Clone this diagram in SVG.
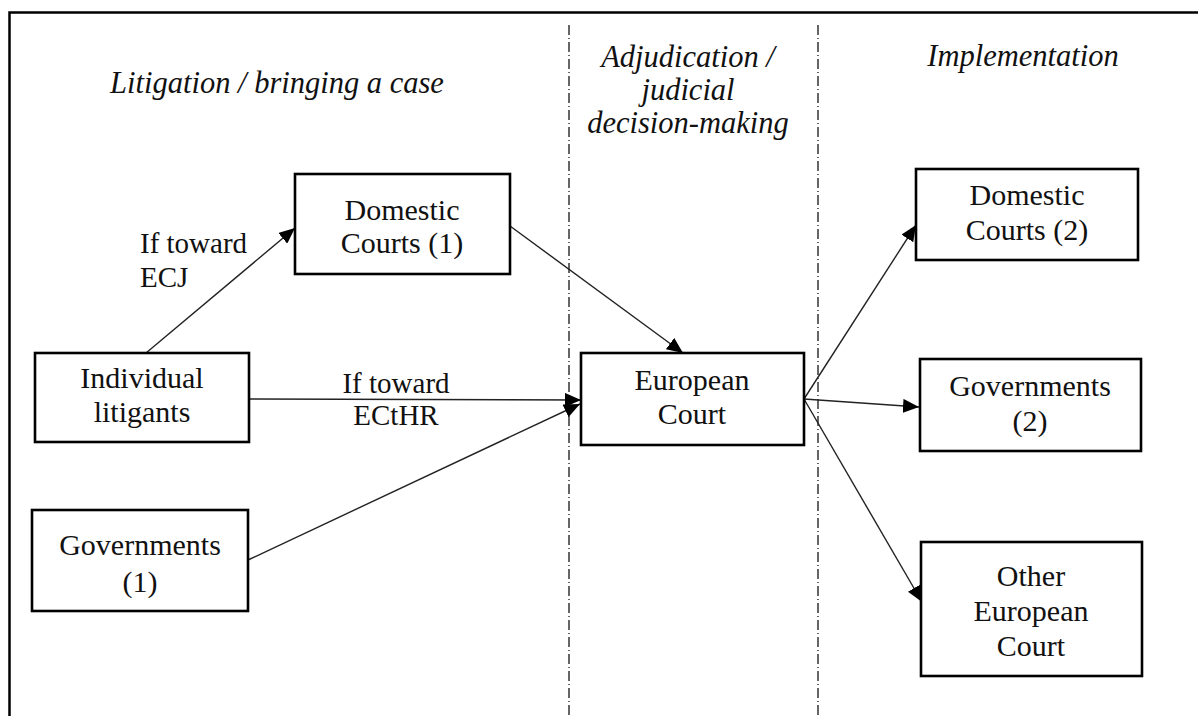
<svg xmlns="http://www.w3.org/2000/svg" width="1198" height="716" viewBox="0 0 1198 716">
<style>
.box{fill:#fff;stroke:#000;stroke-width:2.6}
.lbl{font-size:30px;fill:#111;text-anchor:middle}
.hdr{font-size:30.5px;font-style:italic;fill:#111;text-anchor:middle}
.elbl{font-size:29px;fill:#111}
.conn{stroke:#222;stroke-width:1.4;fill:none}
.div{stroke:#000;stroke-width:1.2;stroke-dasharray:10 3 1 3;fill:none}
</style>
<defs>
<marker id="ah" viewBox="0 0 16 14" refX="16" refY="7" markerWidth="16" markerHeight="14" markerUnits="userSpaceOnUse" orient="auto">
<path d="M0,0 L16,7 L0,14 z" fill="#000"/>
</marker>
</defs>
<rect width="1198" height="716" fill="#fff"/>
<path d="M9.5,716 V12.5 H1198" fill="none" stroke="#000" stroke-width="2.5"/>
<g id="dividers">
<line class="div" x1="569" y1="25" x2="569" y2="716"/>
<line class="div" x1="818" y1="25" x2="818" y2="716"/>
</g>
<g font-family="'Liberation Serif', 'DejaVu Serif', serif">
<g id="headers">
<text class="hdr" x="277" y="93">Litigation / bringing a case</text>
<text class="hdr" x="688" y="67">Adjudication /</text>
<text class="hdr" x="688" y="100">judicial</text>
<text class="hdr" x="688" y="133">decision-making</text>
<text class="hdr" x="1023" y="66">Implementation</text>
</g>
<g id="connectors">
<line class="conn" x1="146" y1="353" x2="295" y2="228" marker-end="url(#ah)"/>
<line class="conn" x1="510" y1="226" x2="683" y2="353" marker-end="url(#ah)"/>
<line class="conn" x1="249" y1="399" x2="581" y2="400" marker-end="url(#ah)"/>
<line class="conn" x1="248" y1="560" x2="580" y2="404" marker-end="url(#ah)"/>
<line class="conn" x1="804" y1="399" x2="916" y2="225" marker-end="url(#ah)"/>
<line class="conn" x1="804" y1="399" x2="919" y2="407" marker-end="url(#ah)"/>
<line class="conn" x1="804" y1="399" x2="922" y2="602" marker-end="url(#ah)"/>
<text class="elbl" x="140" y="253">If toward</text>
<text class="elbl" x="140" y="287">ECJ</text>
<text class="elbl" x="396" y="393" text-anchor="middle">If toward</text>
<text class="elbl" x="396" y="425" text-anchor="middle">ECtHR</text>
</g>
<g id="domestic-courts-1">
<rect class="box" x="295" y="174" width="215" height="100"/>
<text class="lbl" x="402" y="220">Domestic</text>
<text class="lbl" x="402" y="253">Courts (1)</text>
</g>
<g id="individual-litigants">
<rect class="box" x="35" y="353" width="214" height="89"/>
<text class="lbl" x="142" y="388">Individual</text>
<text class="lbl" x="142" y="422">litigants</text>
</g>
<g id="governments-1">
<rect class="box" x="32" y="510" width="216" height="101"/>
<text class="lbl" x="140" y="555">Governments</text>
<text class="lbl" x="140" y="592">(1)</text>
</g>
<g id="european-court">
<rect class="box" x="581" y="353" width="223" height="92"/>
<text class="lbl" x="692" y="390">European</text>
<text class="lbl" x="692" y="424">Court</text>
</g>
<g id="domestic-courts-2">
<rect class="box" x="916" y="169" width="222" height="91"/>
<text class="lbl" x="1027" y="205">Domestic</text>
<text class="lbl" x="1027" y="240">Courts (2)</text>
</g>
<g id="governments-2">
<rect class="box" x="920" y="359" width="221" height="92"/>
<text class="lbl" x="1030" y="396">Governments</text>
<text class="lbl" x="1030" y="431">(2)</text>
</g>
<g id="other-european-court">
<rect class="box" x="921" y="542" width="221" height="134"/>
<text class="lbl" x="1031" y="586">Other</text>
<text class="lbl" x="1031" y="621">European</text>
<text class="lbl" x="1031" y="656">Court</text>
</g>
</g>
</svg>
